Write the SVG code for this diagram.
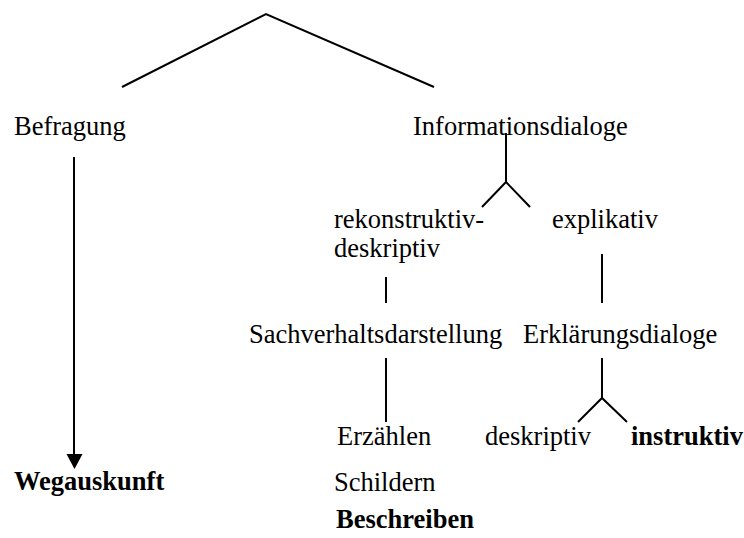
<svg xmlns="http://www.w3.org/2000/svg" width="744" height="538" viewBox="0 0 744 538">
  <style>
    text { font-family: "Liberation Serif", "Times New Roman", serif; font-size: 26.5px; fill: #000; }
    .b { font-weight: bold; }
    .ln { stroke: #000; stroke-width: 2; fill: none; }
  </style>
  <rect width="744" height="538" fill="#fff"/>

  <g id="connectors">
    <polyline class="ln" points="122,87 266,14 434,87"/>
    <line class="ln" x1="74" y1="157" x2="74" y2="455"/>
    <path d="M66.5,454 L82.5,454 L74.5,469 Z" fill="#000"/>
    <line class="ln" x1="506" y1="133" x2="506" y2="182"/>
    <polyline class="ln" points="482,207 506,182 530,207"/>
    <line class="ln" x1="386" y1="277" x2="386" y2="303"/>
    <line class="ln" x1="602" y1="254" x2="602" y2="303"/>
    <line class="ln" x1="386" y1="358" x2="386" y2="422"/>
    <line class="ln" x1="602" y1="358" x2="602" y2="398"/>
    <polyline class="ln" points="578,422 602,398 627,422"/>
  </g>

  <g id="befragung"><text x="14" y="135">Befragung</text></g>
  <g id="informationsdialoge"><text x="413" y="135">Informationsdialoge</text></g>
  <g id="rekonstruktiv">
    <text x="334" y="228">rekonstruktiv-</text>
    <text x="334" y="257">deskriptiv</text>
  </g>
  <g id="explikativ"><text x="552" y="228">explikativ</text></g>
  <g id="sachverhaltsdarstellung"><text x="249" y="343">Sachverhaltsdarstellung</text></g>
  <g id="erklaerungsdialoge"><text x="523" y="343">Erklärungsdialoge</text></g>
  <g id="erzaehlen"><text x="337" y="445">Erzählen</text></g>
  <g id="deskriptiv"><text x="485" y="445">deskriptiv</text></g>
  <g id="instruktiv"><text class="b" x="631" y="445">instruktiv</text></g>
  <g id="wegauskunft"><text class="b" x="14" y="490">Wegauskunft</text></g>
  <g id="schildern"><text x="334" y="491">Schildern</text></g>
  <g id="beschreiben"><text class="b" x="336" y="528">Beschreiben</text></g>
</svg>
